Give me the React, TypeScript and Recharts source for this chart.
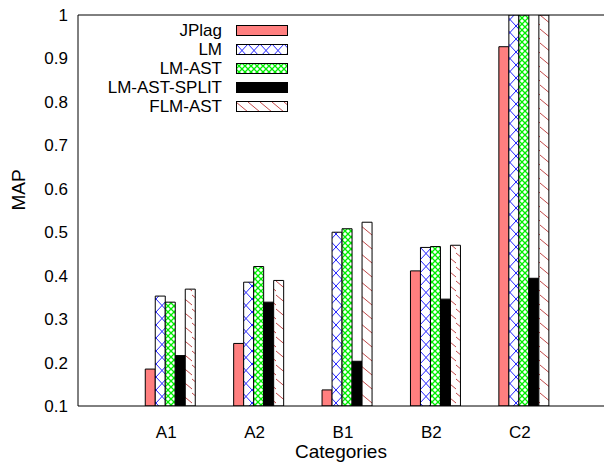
import { BarChart, Bar, XAxis, YAxis } from "recharts";

const categories = ["A1", "A2", "B1", "B2", "C2"];
const jplag = [0.185, 0.244, 0.137, 0.411, 0.927];
const lm = [0.353, 0.385, 0.5, 0.465, 1];
const lmAst = [0.339, 0.421, 0.508, 0.467, 1];
const lmAstSplit = [0.216, 0.339, 0.203, 0.346, 0.394];
const flmAst = [0.369, 0.389, 0.523, 0.47, 1];
const yTicks = [0.1, 0.2, 0.3, 0.4, 0.5, 0.6, 0.7, 0.8, 0.9, 1];

const series = [
  { key: "jplag", name: "JPlag", fill: "#ff7f7f" },
  { key: "lm", name: "LM", fill: "url(#patLM)" },
  { key: "lmAst", name: "LM-AST", fill: "url(#patLMAST)" },
  { key: "split", name: "LM-AST-SPLIT", fill: "#000000" },
  { key: "flm", name: "FLM-AST", fill: "url(#patFLM)" },
];

const data = categories.map((c, i) => ({
  cat: c,
  pad: null,
  jplag: jplag[i],
  lm: lm[i],
  lmAst: lmAst[i],
  split: lmAstSplit[i],
  flm: flmAst[i],
}));

const FONT = "'Liberation Sans', Arial, Helvetica, sans-serif";

// pattern ids are global in the page, so one hidden svg serves chart and legend
function PatternDefs() {
  return (
    <svg width={0} height={0} style={{ position: "absolute" }}>
      <defs>
        <pattern id="patLM" patternUnits="userSpaceOnUse" width="12" height="13">
          <rect width="12" height="13" fill="#fff" />
          <path d="M0,0 L12,13 M12,0 L0,13" stroke="#2222ff" strokeWidth="1" />
        </pattern>
        <pattern id="patLMAST" patternUnits="userSpaceOnUse" width="6" height="6">
          <rect width="6" height="6" fill="#fff" />
          <path d="M0,0 L6,6 M6,0 L0,6" stroke="#00ee00" strokeWidth="1.3" />
        </pattern>
        <pattern id="patFLM" patternUnits="userSpaceOnUse" width="12" height="14">
          <rect width="12" height="14" fill="#fff" />
          <path d="M0,1 L12,11" stroke="#c04848" strokeWidth="1" />
        </pattern>
      </defs>
    </svg>
  );
}

const BottomTick = (props: any) => {
  const { x, y, payload } = props;
  return (
    <text x={x} y={y + 24} textAnchor="middle" fontSize={17} fontFamily={FONT} fill="#000">
      {payload.value}
    </text>
  );
};

function LegendBox() {
  return (
    <div style={{ position: "absolute", top: 21, left: 90, width: 198, fontFamily: FONT, fontSize: 17 }}>
      {series.map((s) => (
        <div key={s.key} style={{ display: "flex", alignItems: "center", height: 19, justifyContent: "flex-end" }}>
          <span style={{ marginRight: 14, lineHeight: "19px" }}>{s.name}</span>
          <svg width={52} height={11}>
            <rect x={0.5} y={0.5} width={51} height={10} fill={s.fill} stroke="#000" />
          </svg>
        </div>
      ))}
    </div>
  );
}

export default function App() {
  return (
    <div
      style={{
        position: "absolute",
        left: 0,
        top: 0,
        width: 604,
        height: 465,
        background: "#fff",
        fontFamily: FONT,
        fontSize: 17,
      }}
    >
      <PatternDefs />
      <BarChart
        width={604}
        height={465}
        data={data}
        margin={{ top: 14, right: 0, left: 0, bottom: 0 }}
        barCategoryGap="15%"
        barGap={0}
      >
        <XAxis
          dataKey="cat"
          height={59}
          padding={{ left: 44, right: 40 }}
          stroke="#000"
          tickLine={false}
          tick={<BottomTick />}
          label={{ value: "Categories", position: "insideBottom", offset: 7, fontSize: 19, fill: "#000" }}
        />
        <XAxis
          xAxisId="top"
          dataKey="cat"
          orientation="top"
          height={1}
          padding={{ left: 44, right: 40 }}
          stroke="#000"
          tickSize={-6}
          tick={false}
        />
        {/* frame line with inward ticks, sits next to the plot */}
        <YAxis
          width={1}
          domain={[0.1, 1]}
          ticks={yTicks}
          allowDataOverflow
          stroke="#000"
          tickSize={-7}
          tick={false}
        />
        {/* labels only, further left */}
        <YAxis
          yAxisId="labels"
          width={77}
          domain={[0.1, 1]}
          ticks={yTicks}
          allowDataOverflow
          stroke="#000"
          axisLine={false}
          tickLine={false}
          tickSize={7}
          label={{ value: "MAP", angle: -90, position: "insideLeft", offset: 18, fontSize: 19, fill: "#000" }}
        />
        <Bar dataKey="pad" legendType="none" isAnimationActive={false} />
        {series.map((s) => (
          <Bar
            key={s.key}
            dataKey={s.key}
            name={s.name}
            fill={s.fill}
            stroke="#000"
            strokeWidth={1}
            isAnimationActive={false}
          />
        ))}
      </BarChart>
      <LegendBox />
    </div>
  );
}
